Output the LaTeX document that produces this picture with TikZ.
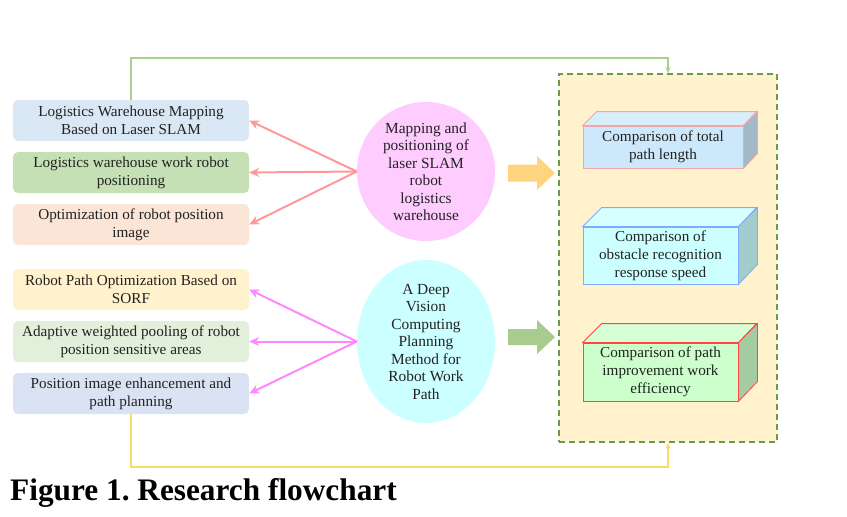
\documentclass[tikz,border=0pt]{standalone}
\usepackage{fontspec}
\setmainfont{Liberation Serif}
\usetikzlibrary{arrows.meta,shapes.geometric}
\frenchspacing
\definecolor{bxA}{HTML}{DAE8F5}
\definecolor{bxB}{HTML}{C5E0B4}
\definecolor{bxC}{HTML}{FBE5D6}
\definecolor{bxD}{HTML}{FFF2CC}
\definecolor{bxE}{HTML}{E2EFDA}
\definecolor{bxF}{HTML}{DAE3F3}
\definecolor{pinkc}{HTML}{FFCCFF}
\definecolor{cyanc}{HTML}{CCFFFF}
\definecolor{arrA}{HTML}{FF9999}
\definecolor{arrB}{HTML}{FF88FF}
\definecolor{panel}{HTML}{FFF2CC}
\definecolor{panelb}{HTML}{6A9A4A}
\definecolor{glink}{HTML}{A9D18E}
\definecolor{ylink}{HTML}{FFD966}
\definecolor{barrowY}{HTML}{FFD47F}
\definecolor{barrowG}{HTML}{A9CC8E}
\definecolor{cAf}{HTML}{CCE8FA}
\definecolor{cAt}{HTML}{D9EEFB}
\definecolor{cAs}{HTML}{A3B9C8}
\definecolor{cAb}{HTML}{F4A5A5}
\definecolor{cBf}{HTML}{CCFFFF}
\definecolor{cBt}{HTML}{D6FFFF}
\definecolor{cBs}{HTML}{A3CCCC}
\definecolor{cBb}{HTML}{7FAAFF}
\definecolor{cCf}{HTML}{CCFFCC}
\definecolor{cCt}{HTML}{D6FFD6}
\definecolor{cCs}{HTML}{A3CCA3}
\definecolor{cCb}{HTML}{FF4444}
\definecolor{txt}{HTML}{222222}
\tikzset{
  lbox/.style={rounded corners=5pt, minimum width=236pt, minimum height=41pt,
    align=center, font=\fontsize{15.2}{18}\selectfont, text=txt, inner sep=0pt},
  circ/.style={ellipse, minimum width=138pt, minimum height=133pt,
    align=center, font=\fontsize{15.4}{17.5}\selectfont, text=txt, inner sep=0pt},
  front/.style={align=center, inner sep=0pt,
    font=\fontsize{15.2}{18}\selectfont, text=txt, line width=0.8pt},
  linkA/.style={arrA, line width=2pt, -{Stealth[length=10pt,width=9pt]}},
  linkB/.style={arrB, line width=2pt, -{Stealth[length=10pt,width=9pt]}},
}
\begin{document}
\begin{tikzpicture}[x=1pt,y=-1pt]
\useasboundingbox (0,0) rectangle (847,517);
% left boxes
\node[lbox, fill=bxA] (b1) at (131,120.5) {Logistics Warehouse Mapping\\Based on Laser SLAM};
\node[lbox, fill=bxB] (b2) at (131,172.5) {Logistics warehouse work robot\\positioning};
\node[lbox, fill=bxC] (b3) at (131,224.5) {Optimization of robot position\\image};
\node[lbox, fill=bxD] (b4) at (131,289.5) {Robot Path Optimization Based on\\SORF};
\node[lbox, fill=bxE] (b5) at (131,341.5) {Adaptive weighted pooling of robot\\position sensitive areas};
\node[lbox, fill=bxF] (b6) at (131,393.5) {Position image enhancement and\\path planning};
% circles
\node[circ, fill=pinkc] (c1) at (426,171.5) {Mapping and\\positioning of\\laser SLAM\\robot\\logistics\\warehouse};
\node[circ, fill=cyanc] (c2) at (426,341.5) {A Deep\\Vision\\Computing\\Planning\\Method for\\Robot Work\\Path};
% panel
\node[draw=panelb, fill=panel, dashed, dash pattern=on 6pt off 4pt, line width=1.6pt,
  minimum width=218pt, minimum height=368pt, inner sep=0pt] (pn) at (668,258) {};
% arrows from circles
\draw[linkA] (c1.west) -- (b1.east);
\draw[linkA] (c1.west) -- (b2.east);
\draw[linkA] (c1.west) -- (b3.east);
\draw[linkB] (c2.west) -- (b4.east);
\draw[linkB] (c2.west) -- (b5.east);
\draw[linkB] (c2.west) -- (b6.east);
% block arrows
\coordinate (ya) at (508,173);
\fill[barrowY] (ya) ++(0,-8.5) -- ++(29,0) -- ++(0,-8.5) -- ++(18,17) -- ++(-18,17) -- ++(0,-8.5) -- ++(-29,0) -- cycle;
\coordinate (ga) at (508,337);
\fill[barrowG] (ga) ++(0,-8) -- ++(29,0) -- ++(0,-9) -- ++(18,17) -- ++(-18,17) -- ++(0,-9) -- ++(-29,0) -- cycle;
% cuboids
\node[front, fill=cAf, draw=cAb, minimum width=160pt, minimum height=42pt] (k1) at (663,147) {Comparison of total\\path length};
\filldraw[fill=cAt, draw=cAb, line width=0.8pt] (k1.north west) -- ++(14,-14) -- ++(160,0) -- (k1.north east) -- cycle;
\filldraw[fill=cAs, draw=cAb, line width=0.8pt] (k1.north east) -- ++(14,-14) -- ++(0,42) -- (k1.south east) -- cycle;
\node[front, fill=cBf, draw=cBb, minimum width=155pt, minimum height=57pt] (k2) at (660.5,255.5) {Comparison of\\obstacle recognition\\response speed};
\filldraw[fill=cBt, draw=cBb, line width=0.8pt] (k2.north west) -- ++(19,-19) -- ++(155,0) -- (k2.north east) -- cycle;
\filldraw[fill=cBs, draw=cBb, line width=0.8pt] (k2.north east) -- ++(19,-19) -- ++(0,57) -- (k2.south east) -- cycle;
\node[front, fill=cCf, draw=cCb, minimum width=155pt, minimum height=58pt] (k3) at (660.5,372) {Comparison of path\\improvement work\\efficiency};
\filldraw[fill=cCt, draw=cCb, line width=0.8pt] (k3.north west) -- ++(19,-19) -- ++(155,0) -- (k3.north east) -- cycle;
\filldraw[fill=cCs, draw=cCb, line width=0.8pt] (k3.north east) -- ++(19,-19) -- ++(0,58) -- (k3.south east) -- cycle;
% feedback links
\draw[glink, line width=1.4pt, -{Stealth[length=6pt,width=5pt]}] (b1.north) -- (131,58) -- (668,58) -- (pn.north);
\draw[ylink, line width=1.4pt, -{Stealth[length=6pt,width=5pt]}] (b6.south) -- (131,467) -- (668,467) -- (pn.south);
% caption
\node[anchor=base west, inner sep=0pt, font=\fontsize{31.3}{36}\selectfont\bfseries] (cap) at (10,500) {Figure 1. Research flowchart};
\end{tikzpicture}
\end{document}
